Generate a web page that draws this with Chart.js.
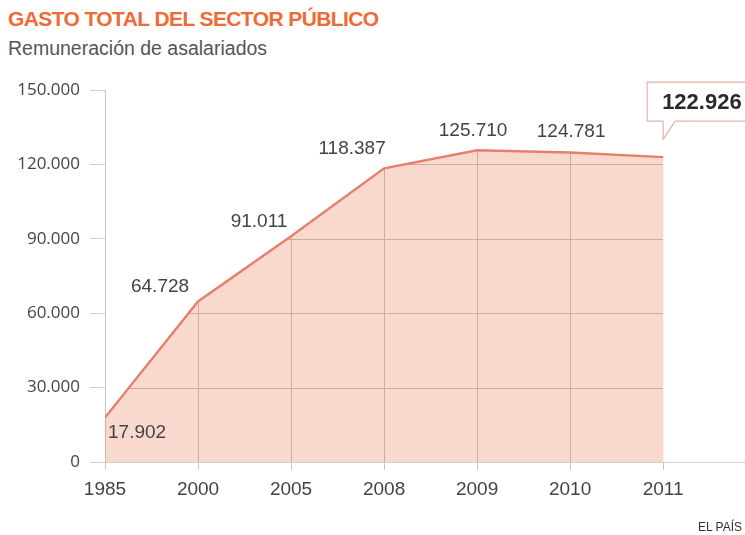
<!DOCTYPE html>
<html lang="es">
<head>
<meta charset="utf-8">
<title>Gasto total del sector público</title>
<script src="https://cdn.jsdelivr.net/npm/chart.js@4.4.1/dist/chart.umd.min.js"></script>
<style>
  html, body { margin: 0; padding: 0; background: #fff; }
  body { width: 745px; height: 535px; position: relative; overflow: hidden; font-family: "Liberation Sans", Arial, sans-serif; }
  #titulo { position: absolute; left: 8px; top: 7px; font-size: 21px; font-weight: bold; color: #f06a35; letter-spacing: -0.6px; }
  #subtitulo { position: absolute; left: 8px; top: 37px; font-size: 19.5px; color: #555; }
  #fuente { position: absolute; right: 3px; top: 520px; font-size: 12px; color: #333; }
  #grafico { position: absolute; left: 0; top: 0; }
</style>
</head>
<body>
<div id="titulo">GASTO TOTAL DEL SECTOR PÚBLICO</div>
<div id="subtitulo">Remuneración de asalariados</div>
<canvas id="grafico" width="745" height="535"></canvas>
<div id="fuente">EL PAÍS</div>
<script>
// Remuneración de asalariados (millones de euros)
const anios = ['1985', '2000', '2005', '2008', '2009', '2010', '2011'];
const remuneracion = [17902, 64728, 91011, 118387, 125710, 124781, 122926];
const ticksY = [0, 30000, 60000, 90000, 120000, 150000];

// desplazamiento de cada etiqueta respecto a su punto (dx, dy, alineación)
const posEtiquetas = [
  [3, 15, 'left'],
  [-38, -15, 'center'],
  [-32, -15, 'center'],
  [-32, -20, 'center'],
  [-4, -19, 'center'],
  [1, -21, 'center'],
  null
];

function formatoMiles(n) {
  return String(Math.round(n)).replace(/\B(?=(\d{3})+(?!\d))/g, '.');
}

const colorLinea = 'rgb(228, 128, 108)';
const colorRejilla = '#bdbdbd';

const rejillaYEtiquetas = {
  id: 'rejillaYEtiquetas',
  // rejilla solo bajo la curva
  beforeDatasetsDraw(chart) {
    const ctx = chart.ctx;
    const puntos = chart.getDatasetMeta(0).data;
    const ejeX = chart.scales.x;
    const ejeY = chart.scales.y;
    const base = ejeY.getPixelForValue(0);
    ctx.save();
    ctx.beginPath();
    ctx.moveTo(puntos[0].x, base);
    puntos.forEach(p => ctx.lineTo(p.x, p.y));
    ctx.lineTo(puntos[puntos.length - 1].x, base);
    ctx.closePath();
    ctx.clip();
    ctx.strokeStyle = colorRejilla;
    ctx.lineWidth = 1;
    ticksY.forEach(v => {
      const y = Math.round(ejeY.getPixelForValue(v)) + 0.5;
      ctx.beginPath();
      ctx.moveTo(chart.chartArea.left, y);
      ctx.lineTo(puntos[puntos.length - 1].x, y);
      ctx.stroke();
    });
    anios.forEach((a, i) => {
      if (i === 0) return;
      const x = Math.round(ejeX.getPixelForValue(i)) + 0.5;
      ctx.beginPath();
      ctx.moveTo(x, base);
      ctx.lineTo(x, chart.chartArea.top);
      ctx.stroke();
    });
    ctx.restore();
  },
  afterDatasetsDraw(chart) {
    const ctx = chart.ctx;
    const puntos = chart.getDatasetMeta(0).data;
    ctx.save();
    ctx.fillStyle = '#444';
    ctx.font = '19px "Liberation Sans", Arial, sans-serif';
    ctx.textBaseline = 'middle';
    puntos.forEach((p, i) => {
      const pos = posEtiquetas[i];
      if (!pos) return;
      ctx.textAlign = pos[2];
      ctx.fillText(formatoMiles(remuneracion[i]), p.x + pos[0], p.y + pos[1]);
    });

    // bocadillo con el último dato
    const ult = puntos[puntos.length - 1];
    const bx = ult.x - 16, by = ult.y - 75, bw = 120, bh = 39;
    const tx = ult.x, ty = ult.y - 18;
    ctx.beginPath();
    ctx.moveTo(bx, by);
    ctx.lineTo(bx + bw, by);
    ctx.lineTo(bx + bw, by + bh);
    ctx.lineTo(tx + 12, by + bh);
    ctx.lineTo(tx, ty);
    ctx.lineTo(tx, by + bh);
    ctx.lineTo(bx, by + bh);
    ctx.closePath();
    ctx.fillStyle = '#fff';
    ctx.fill();
    ctx.strokeStyle = 'rgb(232, 178, 166)';
    ctx.lineWidth = 1.2;
    ctx.stroke();
    ctx.fillStyle = '#2a2a2a';
    ctx.font = 'bold 22px "Liberation Sans", Arial, sans-serif';
    ctx.textAlign = 'left';
    ctx.fillText(formatoMiles(remuneracion[remuneracion.length - 1]), ult.x - 1, by + bh / 2 + 1);
    ctx.restore();
  }
};

const ctx = document.getElementById('grafico').getContext('2d');
new Chart(ctx, {
  type: 'line',
  data: {
    datasets: [{
      data: remuneracion.map((v, i) => ({ x: i, y: v })),
      borderColor: colorLinea,
      borderWidth: 2.4,
      backgroundColor: 'rgba(236, 140, 112, 0.34)',
      fill: 'origin',
      tension: 0,
      pointRadius: 0
    }]
  },
  options: {
    responsive: false,
    animation: false,
    layout: { padding: { top: 90, right: 0, bottom: 0, left: 0 } },
    plugins: {
      legend: { display: false },
      tooltip: { enabled: false }
    },
    scales: {
      x: {
        type: 'linear',
        min: 0,
        max: 6.88,
        afterBuildTicks(scale) {
          scale.ticks = anios.map((a, i) => ({ value: i }));
        },
        afterFit(scale) { scale.height = 73; },
        grid: { drawOnChartArea: false, drawTicks: true, tickLength: 8, color: '#c4c4c4' },
        border: { display: true, color: '#cfcfcf' },
        ticks: {
          padding: 8,
          color: '#444',
          font: { family: '"Liberation Sans", Arial, sans-serif', size: 19 },
          callback: (v) => anios[v] ?? ''
        }
      },
      y: {
        min: 0,
        max: 150000,
        afterBuildTicks(scale) {
          scale.ticks = ticksY.map(v => ({ value: v }));
        },
        afterFit(scale) { scale.width = 105; },
        grid: { drawOnChartArea: false, drawTicks: true, tickLength: 15, color: '#cfcfcf' },
        border: { display: true, color: '#c4c4c4' },
        ticks: {
          padding: 10,
          color: '#444',
          font: { family: '"Open Sans", "Liberation Sans", sans-serif', size: 17 },
          callback: (v) => formatoMiles(v)
        }
      }
    }
  },
  plugins: [rejillaYEtiquetas]
});
</script>
</body>
</html>
